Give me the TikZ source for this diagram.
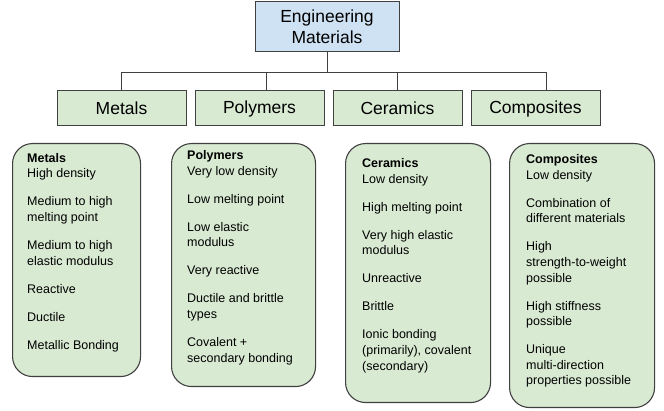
\documentclass[tikz,border=0pt]{standalone}
\usepackage{fontspec}
\setmainfont{Liberation Sans}
\usetikzlibrary{positioning}
\definecolor{titleblue}{HTML}{CFE2F3}
\definecolor{catgreen}{HTML}{D9EAD3}
\definecolor{edgegray}{HTML}{404040}

\begin{document}
\begin{tikzpicture}[x = 1pt, y = -1pt,
        titlebox/.style = {draw = edgegray, fill = titleblue, line width = 1pt, minimum width = 144pt,
            minimum height = 50pt, align = center, font = \fontsize{17.5}{21}\selectfont},
        catbox/.style = {draw = edgegray, fill = catgreen, line width = 1pt, minimum width = 129pt,
            minimum height = 35pt, font = \fontsize{17.5}{21}\selectfont},
        propbox/.style = {draw = edgegray, fill = catgreen, line width = 1.1pt, rounded corners = 20pt,
            anchor = north west, inner sep = 0pt},
        proptext/.style = {anchor = north west, inner sep = 0pt, align = left,
            font = \fontsize{12.5}{15.6}\selectfont}]
        \useasboundingbox (0,0) rectangle (664,411);

        \node[titlebox] (eng) at (327,27) {Engineering\\Materials};
        \coordinate (bus) at (327,73);

        \node[catbox] (metals) at (121.5,108.5) {Metals};
        \node[catbox, right = 8pt of metals] (polymers) {Polymers};
        \node[catbox, right = 8pt of polymers] (ceramics) {Ceramics};
        \node[catbox, right = 8pt of ceramics] (composites) {Composites};

        \draw[edgegray, line width = 1pt] (eng.south) -- (bus);
        \foreach \n/\dx in {metals/0, polymers/7, ceramics/0, composites/11}
            \draw[edgegray, line width = 1pt] (bus) -| ([xshift = \dx pt]\n.north);

        \node[propbox, minimum width = 128pt, minimum height = 233pt] (metalsprops) at (12,143) {};
        \node[propbox, minimum width = 144pt, minimum height = 243pt] (polymersprops) at (171,143) {};
        \node[propbox, minimum width = 145pt, minimum height = 259pt] (ceramicsprops) at (345,143) {};
        \node[propbox, minimum width = 145pt, minimum height = 264pt] (compositesprops) at (509,143) {};

        \node[proptext] (metalslist) at ([shift = {(15pt,-10pt)}]metalsprops.north west)
        {\textbf{Metals}\\High density\\[12.4pt]Medium to high\\melting point\\[12.4pt]Medium to high\\elastic modulus\\[12.4pt]Reactive\\[12.4pt]Ductile\\[12.4pt]Metallic Bonding};
        \node[proptext] (polymerslist) at ([shift = {(16pt,-7.5pt)}]polymersprops.north west)
        {\textbf{Polymers}\\Very low density\\[12.4pt]Low melting point\\[12.4pt]Low elastic\\modulus\\[12.4pt]Very reactive\\[12.4pt]Ductile and brittle\\types\\[12.4pt]Covalent +\\secondary bonding};
        \node[proptext] (ceramicslist) at ([shift = {(17pt,-15.5pt)}]ceramicsprops.north west)
        {\textbf{Ceramics}\\Low density\\[12.4pt]High melting point\\[12.4pt]Very high elastic\\modulus\\[12.4pt]Unreactive\\[12.4pt]Brittle\\[12.4pt]Ionic bonding\\(primarily), covalent\\(secondary)};
        \node[proptext] (compositeslist) at ([shift = {(17pt,-11.5pt)}]compositesprops.north west)
        {\textbf{Composites}\\Low density\\[12.4pt]Combination of\\different materials\\[12.4pt]High\\strength-to-weight\\possible\\[12.4pt]High stiffness\\possible\\[12.4pt]Unique\\multi-direction\\properties possible};
    \end{tikzpicture}
\end{document}
